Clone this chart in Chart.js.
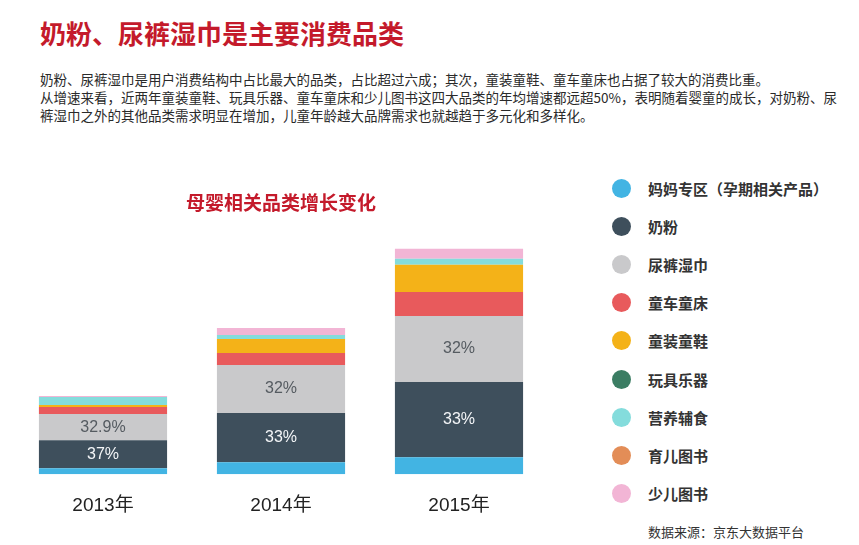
<!DOCTYPE html>
<html>
<head>
<meta charset="utf-8">
<script src="https://cdn.jsdelivr.net/npm/chart.js@4"></script>
<style>
  body { margin: 0; background: #fff; width: 859px; height: 545px; position: relative; overflow: hidden;
    font-family: "Noto Sans CJK SC", "Liberation Sans", sans-serif; }
  #title { position: absolute; left: 40px; top: 14px; font-size: 26px; font-weight: bold; color: #c41a2b; }
  #intro { position: absolute; left: 40px; top: 70px; font-size: 13.5px; line-height: 18px; color: #2a2a2a; white-space: pre-line; }
  #chartBox { position: absolute; left: 0; top: 185px; width: 560px; height: 360px; }
  #legend { position: absolute; left: 612px; top: 169px; }
  .item { height: 38.2px; display: flex; align-items: center; font-size: 15px; font-weight: bold; color: #333; }
  .dot { width: 19px; height: 19px; border-radius: 50%; margin-right: 17px; }
  #source { position: absolute; left: 648px; top: 522px; font-size: 13px; color: #333; }
</style>
</head>
<body>
<div id="title">奶粉、尿裤湿巾是主要消费品类</div>
<div id="intro">奶粉、尿裤湿巾是用户消费结构中占比最大的品类，占比超过六成；其次，童装童鞋、童车童床也占据了较大的消费比重。
从增速来看，近两年童装童鞋、玩具乐器、童车童床和少儿图书这四大品类的年均增速都远超50%，表明随着婴童的成长，对奶粉、尿
裤湿巾之外的其他品类需求明显在增加，儿童年龄越大品牌需求也就越趋于多元化和多样化。</div>
<div id="chartBox"><canvas id="stackChart"></canvas></div>
<div id="legend"></div>
<div id="source">数据来源：京东大数据平台</div>
<script>
const years = ["2013年", "2014年", "2015年"];

const categories = [
  "妈妈专区（孕期相关产品）",
  "奶粉",
  "尿裤湿巾",
  "童车童床",
  "童装童鞋",
  "玩具乐器",
  "营养辅食",
  "育儿图书",
  "少儿图书",
];

const colors = [
  "#42b4e3",
  "#3e4f5c",
  "#c9c9cb",
  "#e85a5c",
  "#f4b218",
  "#3b7d63",
  "#84dcdc",
  "#e38d57",
  "#f2b5d5",
];

// segment sizes (relative units)
const mama = [6, 12, 17];
const milk = [28, 49, 75];
const diaper = [26, 48, 66];
const stroller = [7, 12, 24];
const clothing = [2, 14, 27];
const toys = [0, 0, 0];
const food = [8, 4, 6];
const parenting = [0, 0, 0];
const kidsBooks = [1, 7, 10];

const milkLabels = ["37%", "33%", "33%"];
const diaperLabels = ["32.9%", "32%", "32%"];

const seriesValues = [mama, milk, diaper, stroller, clothing, toys, food, parenting, kidsBooks];
const segmentLabels = { 1: milkLabels, 2: diaperLabels };
const labelColors = { 1: "#f4f6f8", 2: "#555b61" };

const legendBox = document.getElementById("legend");
categories.forEach((name, i) => {
  let row = document.createElement("div");
  row.className = "item";
  row.innerHTML = `<span class="dot" style="background:${colors[i]}"></span><span>${name}</span>`;
  legendBox.appendChild(row);
});

const percentPlugin = {
  id: "percentPlugin",
  afterDatasetsDraw(chart) {
    const ctx = chart.ctx;
    ctx.save();
    ctx.font = '16px "Liberation Sans", Arial, sans-serif';
    ctx.textAlign = "center";
    ctx.textBaseline = "middle";
    Object.keys(segmentLabels).forEach((idx) => {
      const meta = chart.getDatasetMeta(idx);
      meta.data.forEach((bar, j) => {
        ctx.fillStyle = labelColors[idx];
        ctx.fillText(segmentLabels[idx][j], bar.x, (bar.y + bar.base) / 2);
      });
    });
    ctx.restore();
  },
};

const stackChart = new Chart(document.getElementById("stackChart").getContext("2d"), {
  type: "bar",
  data: {
    labels: years,
    datasets: categories.map((name, i) => ({
      label: name,
      data: seriesValues[i],
      backgroundColor: colors[i],
      borderWidth: 0,
      barPercentage: 0.72,
      categoryPercentage: 1,
    })),
  },
  options: {
    responsive: true,
    maintainAspectRatio: false,
    animation: false,
    layout: { padding: { left: 14, right: 12, top: 0, bottom: 8 } },
    plugins: {
      legend: { display: false },
      tooltip: { enabled: false },
      title: {
        display: true,
        text: "母婴相关品类增长变化",
        color: "#c41a2b",
        font: { size: 19, weight: "bold", family: '"Noto Sans CJK SC", sans-serif' },
        padding: { top: 6, bottom: 20 },
      },
    },
    scales: {
      x: {
        stacked: true,
        grid: { display: false, drawTicks: false },
        border: { display: false },
        ticks: {
          color: "#222",
          padding: 20,
          font: { size: 19, family: '"Liberation Sans", "Noto Sans CJK SC", sans-serif' },
        },
      },
      y: {
        stacked: true,
        display: false,
        min: 0,
        max: 240,
      },
    },
  },
  plugins: [percentPlugin],
});
</script>
</body>
</html>
